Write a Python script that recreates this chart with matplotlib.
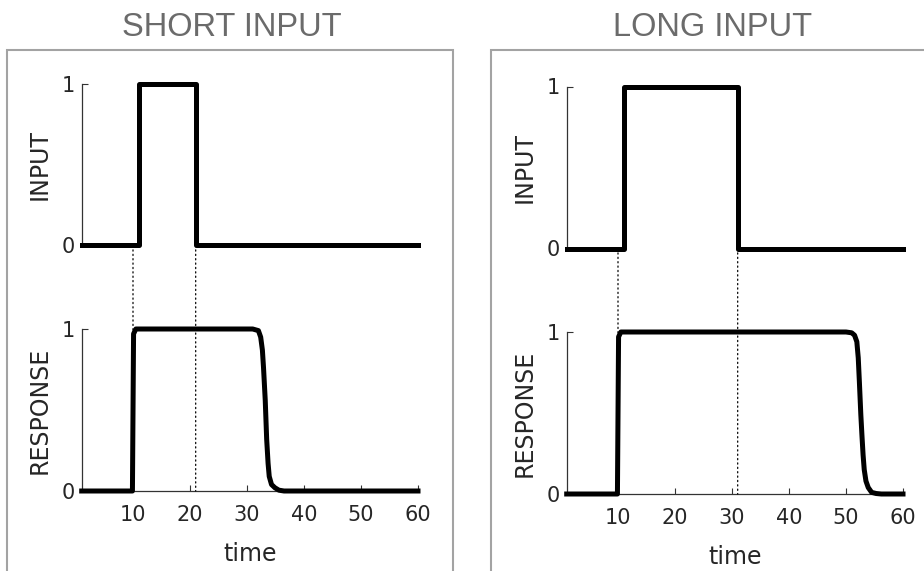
import matplotlib
matplotlib.use("Agg")
import matplotlib.pyplot as plt
from matplotlib.patches import Rectangle, ConnectionPatch

# stimulus: step input, on at t=11, off at the given time
input_times_short = [1, 11, 21, 60]
input_vals_short = [0, 1, 0, 0]
input_times_long = [1, 11, 31, 60]
input_vals_long = [0, 1, 0, 0]

# system response read at sample times
resp_times_short = [1, 9.9, 10.1, 10.5, 31.0, 32.0, 32.4, 32.7, 32.9, 33.2,
                    33.45, 33.7, 33.9, 34.3, 34.9, 35.6, 36.5, 60]
resp_vals_short = [0, 0, 0.97, 1.0, 1.0, 0.99, 0.95, 0.87, 0.76, 0.56,
                   0.32, 0.17, 0.09, 0.04, 0.02, 0.005, 0, 0]
resp_times_long = [1, 9.9, 10.1, 10.5, 50.0, 51.0, 51.5, 51.9, 52.15, 52.35,
                   52.6, 52.8, 53.0, 53.2, 53.5, 53.9, 54.5, 55.3, 56.2, 60]
resp_vals_long = [0, 0, 0.97, 1.0, 1.0, 0.995, 0.98, 0.94, 0.84, 0.69,
                  0.49, 0.36, 0.24, 0.15, 0.08, 0.04, 0.01, 0.003, 0, 0]

# dotted guides
marks_short = [10, 21]
marks_long = [10, 31]

x_ticks = [10, 20, 30, 40, 50, 60]
y_ticks = [0, 1]
titles = ["SHORT INPUT", "LONG INPUT"]

W, H = 924, 571
fig = plt.figure(figsize=(W / 100, H / 100), dpi=100)

TXT = "#262626"
SPINE = "#333333"


def px(x0, y_top, w, h):
    """pixel box (left, top, width, height) -> figure fraction"""
    return [x0 / W, 1 - (y_top + h) / H, w / W, h / H]


def style(ax, bottom=True):
    for s in ["top", "right"]:
        ax.spines[s].set_visible(False)
    ax.spines["bottom"].set_visible(bottom)
    for s in ["left", "bottom"]:
        ax.spines[s].set_color(SPINE)
        ax.spines[s].set_linewidth(0.9)
    ax.set_xlim(1, 60)
    ax.set_ylim(0, 1)
    ax.set_yticks(y_ticks)
    ax.tick_params(direction="in", length=4, width=0.8, colors=SPINE,
                   labelcolor=TXT, labelsize=15)
    ax.tick_params(axis="y", pad=5)
    ax.tick_params(axis="x", pad=10)
    ax.patch.set_alpha(0)


panels = [
    dict(box_x=7, ax_x=81.7, in_top=83.5, rs_top=329, h=162,
         in_t=input_times_short, in_v=input_vals_short,
         r_t=resp_times_short, r_v=resp_vals_short, marks=marks_short,
         title_x=232),
    dict(box_x=491, ax_x=566.7, in_top=86.5, rs_top=332, h=162,
         in_t=input_times_long, in_v=input_vals_long,
         r_t=resp_times_long, r_v=resp_vals_long, marks=marks_long,
         title_x=713),
]

for i, p in enumerate(panels):
    # grey frame around each panel (open past the figure edges)
    fig.add_artist(Rectangle((p["box_x"] / W, -0.2), (446 if i == 0 else 600) / W,
                             1.2 - 50 / H, transform=fig.transFigure,
                             fill=False, edgecolor="#a3a3a3", linewidth=1.5))
    fig.text(p["title_x"] / W, 1 - 27 / H, titles[i], ha="center", va="center",
             fontsize=23.5, color="#6b6b6b", family="Liberation Sans")

    ax_in = fig.add_axes(px(p["ax_x"], p["in_top"], 336.3, p["h"]))
    ax_rs = fig.add_axes(px(p["ax_x"], p["rs_top"], 336.3, p["h"]))
    style(ax_in, bottom=False)
    style(ax_rs)
    ax_in.set_xticks([])
    ax_rs.set_xticks(x_ticks)

    ax_in.step(p["in_t"], p["in_v"], where="post", color="black", lw=3.6,
               solid_joinstyle="round", clip_on=False, zorder=3)
    ax_rs.plot(p["r_t"], p["r_v"], color="black", lw=3.6,
               solid_joinstyle="round", clip_on=False, zorder=3)

    for m in p["marks"]:
        con = ConnectionPatch(xyA=(m, 0), coordsA=ax_in.transData,
                              xyB=(m, 0), coordsB=ax_rs.transData,
                              linestyle=(0, (1, 2.5)), color="black", lw=0.9)
        fig.add_artist(con)

    ax_in.set_ylabel("INPUT", fontsize=17, color=TXT)
    ax_rs.set_ylabel("RESPONSE", fontsize=17, color=TXT)
    ax_in.yaxis.set_label_coords(-0.088, 0.5)
    ax_rs.yaxis.set_label_coords(-0.088, 0.5)
    ax_rs.set_xlabel("time", fontsize=17, color=TXT, labelpad=12)

fig.savefig("out.png", dpi=100)
